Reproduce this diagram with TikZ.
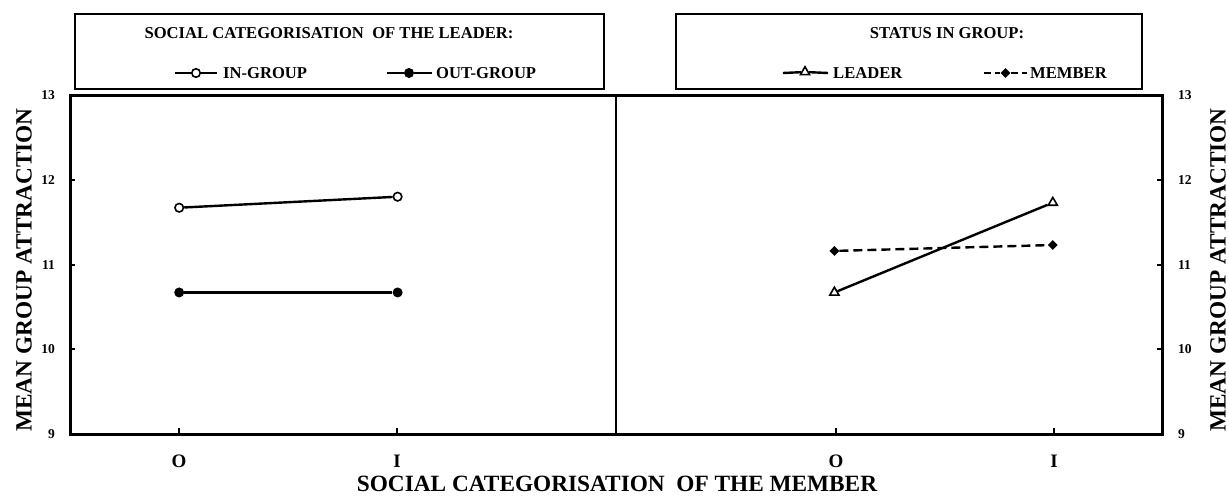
\documentclass[tikz,border=0pt]{standalone}
\usepackage{fontspec}
\setmainfont{Liberation Serif}
\usetikzlibrary{shapes.geometric}
\newcommand{\AxisFont}{\fontsize{23.3}{23.3}\selectfont\bfseries}
\newcommand{\LegFont}{\fontsize{16.6}{16.6}\selectfont\bfseries}
\newcommand{\CatFont}{\fontsize{19}{19}\selectfont\bfseries}
\newcommand{\TickFont}{\fontsize{13.5}{13.5}\selectfont\bfseries}

\begin{document}
\begin{tikzpicture}[x=1pt, y=-1pt,
		frame/.style={line width=3pt},
		tickmark/.style={line width=1.5pt},
		dataline/.style={line width=2.4pt},
		dashline/.style={line width=2.4pt, dash pattern=on 9pt off 5pt},
		legbox/.style={draw, line width=1.5pt, inner sep=0},
		txt/.style={inner sep=0},
		opendot/.style={circle, draw, fill=white, line width=1.6pt, inner sep=0, minimum size=8.5pt},
		fulldot/.style={circle, fill=black, inner sep=0, minimum size=10pt},
		opentri/.style={regular polygon, regular polygon sides=3, draw, fill=white, line width=1.6pt, inner sep=0, minimum size=10.5pt},
		fulldia/.style={diamond, fill=black, inner sep=0, minimum size=10pt}]
		
		\useasboundingbox (0,0) rectangle (1229,496);
		
		% LEGENDS
		\node[legbox, minimum width=529pt, minimum height=75pt] (legL) at (339.5,51.5) {};
		\node[txt, font=\LegFont] (legLtitle) at (329,33) {SOCIAL CATEGORISATION \ OF THE LEADER:};
		\coordinate (inA) at (175,73);
		\coordinate (inB) at (217,73);
		\node[opendot] (inM) at (196,73) {};
		\draw[dataline] (inA) -- (inM) -- (inB);
		\node[txt, font=\LegFont, anchor=west] (inTxt) at (223,73) {IN-GROUP};
		\coordinate (outA) at (387,73);
		\coordinate (outB) at (432,73);
		\node[fulldot] (outM) at (409,73) {};
		\draw[dataline] (outA) -- (outM) -- (outB);
		\node[txt, font=\LegFont, anchor=west] (outTxt) at (436,73) {OUT-GROUP};
		
		\node[legbox, minimum width=466pt, minimum height=75pt] (legR) at (909,51.5) {};
		\node[txt, font=\LegFont] (legRtitle) at (947,33) {STATUS IN GROUP:};
		\coordinate (leadA) at (783,73);
		\coordinate (leadB) at (828,73);
		\node[opentri] (leadM) at (805,72) {};
		\draw[dataline] (leadA) -- (leadM) -- (leadB);
		\node[txt, font=\LegFont, anchor=west] (leadTxt) at (833,73) {LEADER};
		\coordinate (memA) at (984,73);
		\coordinate (memB) at (1027,73);
		\node[fulldia] (memM) at (1005.5,73) {};
		\draw[dashline, dash pattern=on 7pt off 4pt] (memA) -- (memM) -- (memB);
		\node[txt, font=\LegFont, anchor=west] (memTxt) at (1030,73) {MEMBER};
		
		% AXES
		\draw[frame] (70,95) rectangle (1162,434);
		\draw[line width=2pt] (616,95) -- (616,434);
		\foreach \y/\v in {95/13, 180/12, 265/11, 349/10, 434/9} {
			\draw[tickmark] (70,\y) -- (75,\y);
			\draw[tickmark] (1162,\y) -- (1157,\y);
			\node[txt, font=\TickFont, anchor=east] at (55,\y) {\v};
			\node[txt, font=\TickFont, anchor=west] at (1178,\y) {\v};
		}
		\foreach \x/\c in {179/O, 397/I, 836/O, 1054/I} {
			\draw[tickmark] (\x,434) -- (\x,428);
			\node[txt, font=\CatFont] at (\x,461) {\c};
		}
		\node[txt, font=\AxisFont, rotate=90] (ylabL) at (24,270) {MEAN GROUP ATTRACTION};
		\node[txt, font=\AxisFont, rotate=90] (ylabR) at (1218,270) {MEAN GROUP ATTRACTION};
		\node[txt, font=\AxisFont] (xlab) at (617,484) {SOCIAL CATEGORISATION \ OF THE MEMBER};
		
		% DATA
		\begin{scope}[shift={(70,1196.75)}, x=109.2pt, y=84.75pt]
			% LEFT SIDE
			\node[opendot] (inO) at (1,11.67) {};
			\node[opendot] (inI) at (3,11.80) {};
			\draw[dataline] (inO) -- (inI);
			\node[fulldot] (outO) at (1,10.67) {};
			\node[fulldot] (outI) at (3,10.67) {};
			\draw[dataline] (outO) -- (outI);
			
			% RIGHT SIDE
			\node[fulldia] (memO) at (7,11.16) {};
			\node[fulldia] (memI) at (9,11.23) {};
			\draw[dashline] (memO) -- (memI);
			\node[opentri] (leadO) at (7,10.67) {};
			\node[opentri] (leadI) at (9,11.73) {};
			\draw[dataline] (leadO) -- (leadI);
		\end{scope}
\end{tikzpicture}
\end{document}
